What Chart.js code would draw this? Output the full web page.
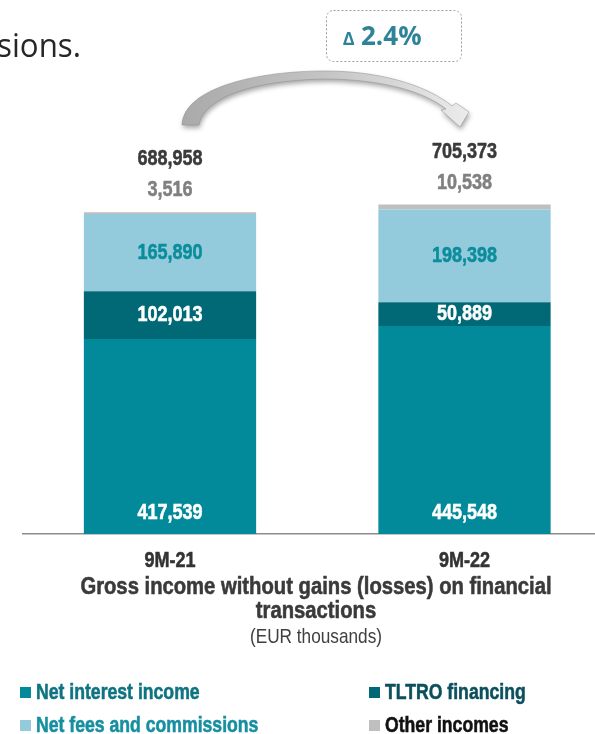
<!DOCTYPE html>
<html>
<head>
<meta charset="utf-8">
<script src="https://cdn.jsdelivr.net/npm/chart.js@4/dist/chart.umd.min.js"></script>
<style>
  html, body { margin: 0; padding: 0; background: #fff; overflow: hidden; }
  body { width: 595px; height: 734px; position: relative; }
  #wrap { position: absolute; left: 0; top: 0; width: 612px; height: 734px; }
</style>
</head>
<body>
<div id="wrap"><canvas id="c" width="612" height="734"></canvas></div>
<script>
// Gross income breakdown (EUR thousands)
const categories   = ['9M-21', '9M-22'];
const netInterest  = [417539, 445548];
const tltro        = [102013, 50889];
const netFees      = [165890, 198398];
const otherIncomes = [3516, 10538];
const totals       = [688958, 705373];
const deltaText    = '2.4%';
const titleLines   = ['Gross income without gains (losses) on financial', 'transactions'];
const unitText     = '(EUR thousands)';
const headText     = 'sions.';

const SANS = "'Liberation Sans', Arial, sans-serif";
const fmt = v => v.toLocaleString('en-US');

const series = [
  { label: 'Net interest income',      data: netInterest,  color: '#028a9b', text: '#ffffff', legendText: '#0f7482' },
  { label: 'TLTRO financing',          data: tltro,        color: '#006975', text: '#ffffff', legendText: '#0b505c' },
  { label: 'Net fees and commissions', data: netFees,      color: '#94cbdc', text: '#0b8d9c', legendText: '#168fa0' },
  { label: 'Other incomes',            data: otherIncomes, color: '#bfbfbf', text: '#808080', legendText: '#111111' }
];

// condensed text: Liberation Sans squeezed horizontally, bold gets a hairline stroke
function narrow(ctx, text, x, y, size, color, opts = {}) {
  const weight = opts.weight || 'bold';
  const squeeze = opts.squeeze || 0.82;
  ctx.font = `${weight} ${size}px ${SANS}`;
  ctx.textAlign = opts.align || 'center';
  ctx.textBaseline = 'middle';
  ctx.fillStyle = color;
  const w = ctx.measureText(text).width * squeeze;
  ctx.fillText(text, x, y, w);
  if (weight === 'bold') {
    ctx.strokeStyle = color;
    ctx.lineWidth = 0.55;
    ctx.strokeText(text, x, y, w);
  }
}

// value labels, category labels, caption, legend and the growth callout
const decorations = {
  id: 'decorations',
  afterDatasetsDraw(chart) {
    const ctx = chart.ctx;
    ctx.save();

    // segment labels
    chart.data.datasets.forEach((ds, di) => {
      const meta = chart.getDatasetMeta(di);
      meta.data.forEach((bar, i) => {
        let y;
        if (di === 0) y = bar.base - 21;
        else if (di === 3) y = bar.y - 22;
        else y = (bar.y + bar.base) / 2;
        narrow(ctx, fmt(ds.data[i]), bar.x, y, 22, series[di].text);
      });
    });

    // totals above the stacks
    chart.getDatasetMeta(3).data.forEach((bar, i) => {
      narrow(ctx, fmt(totals[i]), bar.x, bar.y - 22 - 31, 22, '#3a3a3a');
    });

    // category labels under the axis
    const xs = chart.scales.x;
    categories.forEach((c, i) => {
      narrow(ctx, c, xs.getPixelForTick(i), 561, 22, '#333333');
    });

    // caption
    const cx = 316;
    narrow(ctx, titleLines[0], cx, 588, 23, '#3a3a3a', { squeeze: 0.88 });
    narrow(ctx, titleLines[1], cx, 612, 23, '#3a3a3a', { squeeze: 0.88 });
    narrow(ctx, unitText, cx, 637, 21, '#404040', { weight: 'normal' });

    // legend, two columns
    const cols = [20, 369], rows = [693, 726];
    series.forEach((s, k) => {
      const x = cols[k % 2], y = rows[Math.floor(k / 2)];
      ctx.fillStyle = s.color;
      ctx.fillRect(x, y - 6, 11, 11);
      narrow(ctx, s.label, x + 16, y, 21.5, s.legendText, { align: 'left' });
    });

    // heading fragment
    ctx.font = '33px "Open Sans", sans-serif';
    ctx.fillStyle = '#262626';
    ctx.textAlign = 'right';
    ctx.textBaseline = 'alphabetic';
    ctx.fillText(headText, 81, 57, 84);

    // growth callout box
    const bx = 326, by = 10, bw = 135, bh = 51, r = 7;
    ctx.setLineDash([2, 2]);
    ctx.strokeStyle = '#9a9a9a';
    ctx.lineWidth = 1;
    ctx.beginPath();
    ctx.roundRect(bx + 0.5, by + 0.5, bw, bh, r);
    ctx.stroke();
    ctx.setLineDash([]);
    ctx.fillStyle = '#2f8399';
    ctx.textBaseline = 'alphabetic';
    ctx.textAlign = 'left';
    ctx.font = 'bold 18px "Open Sans", sans-serif';
    ctx.fillText('\u2206', 343, 45);
    ctx.font = 'bold 26px "Open Sans", sans-serif';
    ctx.fillText(deltaText, 361, 45, 61);

    // curved arrow
    ctx.save();
    ctx.shadowColor = 'rgba(0,0,0,0.35)';
    ctx.shadowBlur = 5;
    ctx.shadowOffsetX = 1;
    ctx.shadowOffsetY = 3;
    const g = ctx.createLinearGradient(180, 0, 470, 0);
    g.addColorStop(0, '#a9a9a9');
    g.addColorStop(0.5, '#c4c4c4');
    g.addColorStop(1, '#ececec');
    ctx.fillStyle = g;
    ctx.beginPath();
    ctx.moveTo(182, 125);
    ctx.bezierCurveTo(184, 84, 270, 70, 330, 71);
    ctx.bezierCurveTo(388, 72, 430, 88, 452, 106);
    ctx.lineTo(456, 103);
    ctx.lineTo(469, 112);
    ctx.lineTo(460, 127);
    ctx.lineTo(441, 110);
    ctx.lineTo(446, 109);
    ctx.bezierCurveTo(425, 92, 385, 80, 330, 79);
    ctx.bezierCurveTo(270, 79, 205, 92, 199, 125);
    ctx.closePath();
    ctx.fill();
    ctx.restore();
    ctx.strokeStyle = 'rgba(140,140,140,0.6)';
    ctx.lineWidth = 0.8;
    ctx.stroke();

    ctx.restore();
  }
};

new Chart(document.getElementById('c'), {
  type: 'bar',
  data: {
    labels: categories,
    datasets: series.map(s => ({
      label: s.label,
      data: s.data,
      backgroundColor: s.color,
      borderWidth: 0,
      categoryPercentage: 1,
      barPercentage: 0.585
    }))
  },
  options: {
    responsive: false,
    animation: false,
    layout: { padding: { left: 22.75, right: 0.25, top: 67, bottom: 0 } },
    plugins: { legend: { display: false }, tooltip: { enabled: false } },
    scales: {
      x: {
        stacked: true,
        grid: { display: false, drawTicks: false },
        border: { display: true, color: '#8c8c8c', width: 1.5 },
        ticks: { display: false },
        afterFit(scale) { scale.height = 200; }
      },
      y: {
        stacked: true,
        display: false,
        min: 0,
        max: 1000000
      }
    }
  },
  plugins: [decorations]
});
</script>
</body>
</html>
